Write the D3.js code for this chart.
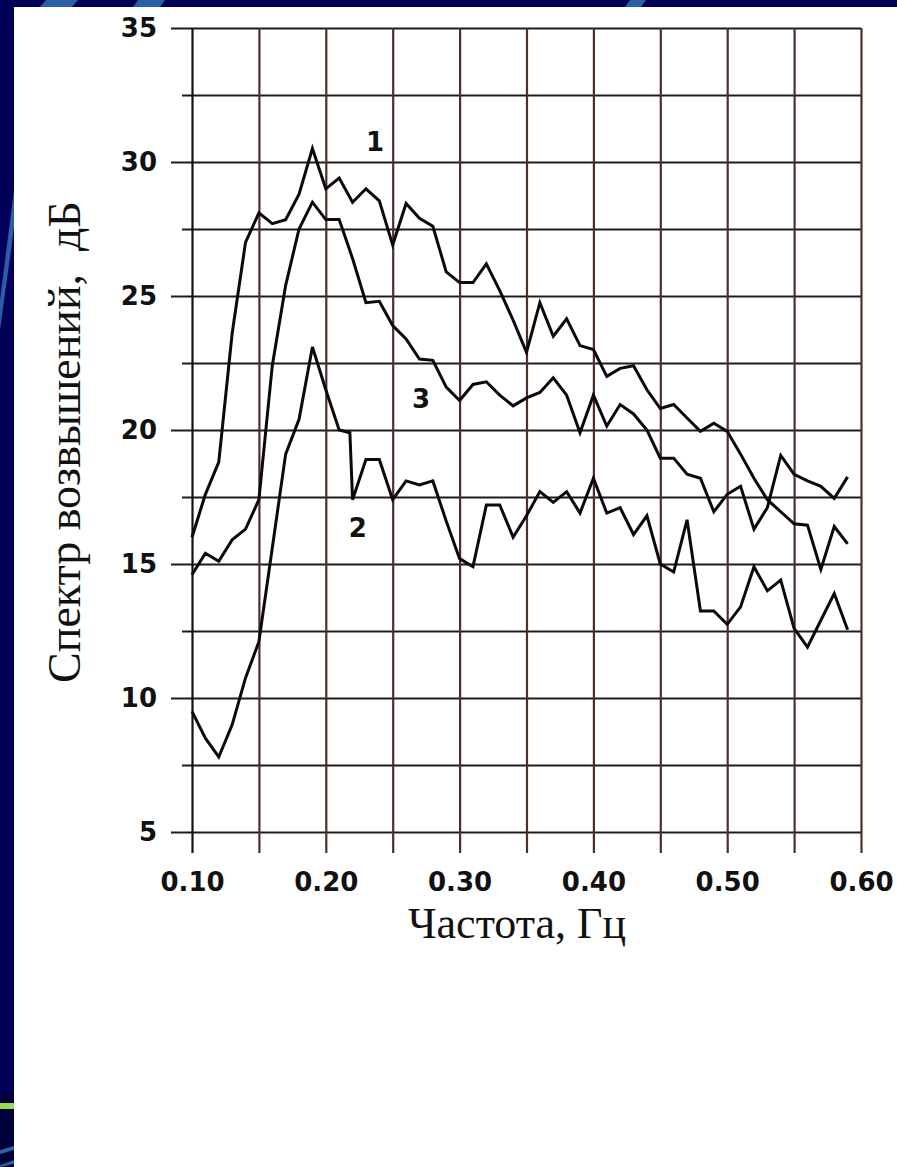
<!DOCTYPE html>
<html>
<head>
<meta charset="utf-8">
<script src="https://cdn.jsdelivr.net/npm/d3@7"></script>
<style>
  html, body { margin: 0; padding: 0; background: #000058; }
  svg { display: block; }
  .tick-label { font-family: "DejaVu Sans", Verdana, sans-serif; font-weight: bold; fill: #111; }
  .axis-title { font-family: "Liberation Serif", "Times New Roman", serif; fill: #111; }
</style>
</head>
<body>
<svg id="chart" width="897" height="1167"></svg>
<script>
// Frequency grid, Hz
const freq = [0.10,0.11,0.12,0.13,0.14,0.15,0.16,0.17,0.18,0.19,
              0.20,0.21,0.22,0.23,0.24,0.25,0.26,0.27,0.28,0.29,
              0.30,0.31,0.32,0.33,0.34,0.35,0.36,0.37,0.38,0.39,
              0.40,0.41,0.42,0.43,0.44,0.45,0.46,0.47,0.48,0.49,
              0.50,0.51,0.52,0.53,0.54,0.55,0.56,0.57,0.58,0.59];
// Curve 2 has an extra sample just before its step at 0.22 Hz
const freq2 = [0.10,0.11,0.12,0.13,0.14,0.15,0.16,0.17,0.18,0.19,
               0.20,0.21,0.218,0.22,0.23,0.24,0.25,0.26,0.27,0.28,0.29,
               0.30,0.31,0.32,0.33,0.34,0.35,0.36,0.37,0.38,0.39,
               0.40,0.41,0.42,0.43,0.44,0.45,0.46,0.47,0.48,0.49,
               0.50,0.51,0.52,0.53,0.54,0.55,0.56,0.57,0.58,0.59];

// Wave height spectra, dB
const spectrum1 = [16.0,17.6,18.8,23.6,27.0,28.1,27.7,27.85,28.8,30.5,
                   29.0,29.4,28.5,29.0,28.55,26.9,28.45,27.9,27.6,25.9,
                   25.5,25.5,26.2,25.2,24.1,22.9,24.75,23.5,24.15,23.15,
                   23.0,22.0,22.3,22.4,21.5,20.8,20.95,20.45,19.95,20.25,
                   19.95,19.1,18.2,17.4,16.95,16.5,16.45,14.8,16.4,15.75];
const spectrum2 = [9.5,8.5,7.8,9.0,10.75,12.1,15.6,19.1,20.4,23.1,
                   21.5,20.0,19.9,17.4,18.9,18.9,17.4,18.1,17.95,18.1,16.6,
                   15.2,14.9,17.2,17.2,16.0,16.8,17.7,17.3,17.7,16.9,
                   18.2,16.9,17.1,16.1,16.8,15.0,14.7,16.65,13.25,13.25,
                   12.75,13.4,14.9,14.0,14.4,12.6,11.9,12.9,13.9,12.55];
const spectrum3 = [14.6,15.4,15.1,15.9,16.3,17.4,22.4,25.4,27.5,28.5,
                   27.85,27.85,26.4,24.75,24.8,23.9,23.4,22.65,22.6,21.6,
                   21.1,21.7,21.8,21.3,20.9,21.2,21.4,21.95,21.3,19.9,
                   21.3,20.15,20.95,20.6,20.0,18.95,18.95,18.35,18.2,16.95,
                   17.6,17.9,16.3,17.1,19.05,18.35,18.1,17.9,17.45,18.25];

// Axis ticks
const yMajorTicks = [5, 10, 15, 20, 25, 30, 35];
const yMinorTicks = [7.5, 12.5, 17.5, 22.5, 27.5, 32.5];
const xTicks = [0.10,0.15,0.20,0.25,0.30,0.35,0.40,0.45,0.50,0.55,0.60];
const xTickLabels = ["0.10","","0.20","","0.30","","0.40","","0.50","","0.60"];

const seriesNames = ["1", "2", "3"];

const svg = d3.select("#chart");
const W = 897, H = 1167;

// ---- slide backdrop ----
svg.append("rect").attr("width", W).attr("height", H).attr("fill", "#000058");
svg.append("rect").attr("x", 0).attr("y", 1092).attr("width", 14).attr("height", H - 1092).attr("fill", "#00003a");
const deco = [
  [[46,0],[78,0],[72,7],[40,7]],
  [[138,0],[165,0],[160,7],[133,7]],
  [[630,0],[646,0],[641,7],[625,7]],
  [[0,300],[14,190],[14,228],[0,330]],
  [[0,1150],[14,1146],[14,1150],[0,1154]],
  [[0,1165],[14,1160],[14,1164],[0,1167]]
];
svg.append("g").selectAll("polygon").data(deco).join("polygon")
  .attr("points", d => d.map(p => p.join(",")).join(" "))
  .attr("fill", "#2a5ea6");
svg.append("rect").attr("x", 0).attr("y", 1103).attr("width", 14).attr("height", 6).attr("fill", "#96dc50");

// white sheet
svg.append("rect").attr("x", 14).attr("y", 7).attr("width", W - 14).attr("height", H - 7).attr("fill", "#ffffff");

// ---- scales ----
const x = d3.scaleLinear().domain([0.10, 0.60]).range([192, 861]);
const y = d3.scaleLinear().domain([5, 35]).range([832, 28]);

// ---- horizontal grid (major lines carry labels and stick out further) ----
const gMajor = svg.append("g").attr("transform", "translate(171,0)")
  .call(d3.axisLeft(y).tickValues(yMajorTicks).tickSizeInner(-(861 - 171)).tickSizeOuter(0)
        .tickPadding(14).tickFormat(d3.format("d")));
gMajor.select(".domain").remove();
gMajor.selectAll(".tick line").attr("stroke", "#1c1c1c").attr("stroke-width", 2.2);
gMajor.selectAll(".tick text").attr("class", "tick-label").attr("font-size", 26).attr("fill", "#111");

const gMinor = svg.append("g").attr("transform", "translate(182,0)")
  .call(d3.axisLeft(y).tickValues(yMinorTicks).tickSizeInner(-(861 - 182)).tickSizeOuter(0).tickFormat(""));
gMinor.select(".domain").remove();
gMinor.selectAll(".tick line").attr("stroke", "#1c1c1c").attr("stroke-width", 2.2);

// ---- vertical grid with frequency labels ----
const gX = svg.append("g").attr("transform", "translate(0,853)")
  .call(d3.axisBottom(x).tickValues(xTicks).tickSizeInner(-(853 - 28)).tickSizeOuter(0)
        .tickPadding(20).tickFormat((d, i) => xTickLabels[i]));
gX.select(".domain").remove();
gX.selectAll(".tick line")
  .attr("stroke", (d, i) => i === 0 ? "#111" : "#4e302a")
  .attr("stroke-width", 2.2);
gX.selectAll(".tick text").attr("class", "tick-label").attr("font-size", 26).attr("fill", "#111");

// ---- spectra ----
const line = d3.line().x(d => x(d[0])).y(d => y(d[1]));
const series = [
  { name: "1", pts: d3.zip(freq, spectrum1) },
  { name: "2", pts: d3.zip(freq2, spectrum2) },
  { name: "3", pts: d3.zip(freq, spectrum3) }
];
svg.append("g").selectAll("path").data(series).join("path")
  .attr("d", d => line(d.pts))
  .attr("fill", "none")
  .attr("stroke", "#0a0a0a")
  .attr("stroke-width", 3)
  .attr("stroke-linejoin", "miter");

// curve numbers
const labelAt = { "1": [0.2368, 30.75], "2": [0.224, 16.35], "3": [0.2712, 21.15] };
svg.append("g").selectAll("text").data(seriesNames).join("text")
  .attr("class", "tick-label")
  .attr("x", d => x(labelAt[d][0]))
  .attr("y", d => y(labelAt[d][1]))
  .attr("text-anchor", "middle")
  .attr("dominant-baseline", "central")
  .attr("font-size", 26)
  .text(d => d);

// ---- axis titles ----
svg.append("text").attr("class", "axis-title")
  .attr("x", 517).attr("y", 938)
  .attr("text-anchor", "middle")
  .attr("font-size", 44)
  .text("Частота, Гц");

svg.append("text").attr("class", "axis-title")
  .attr("transform", "translate(80,442) rotate(-90)")
  .attr("text-anchor", "middle")
  .attr("font-size", 46)
  .attr("xml:space", "preserve")
  .style("white-space", "pre")
  .text("Спектр возвышений,  дБ");
</script>
</body>
</html>
